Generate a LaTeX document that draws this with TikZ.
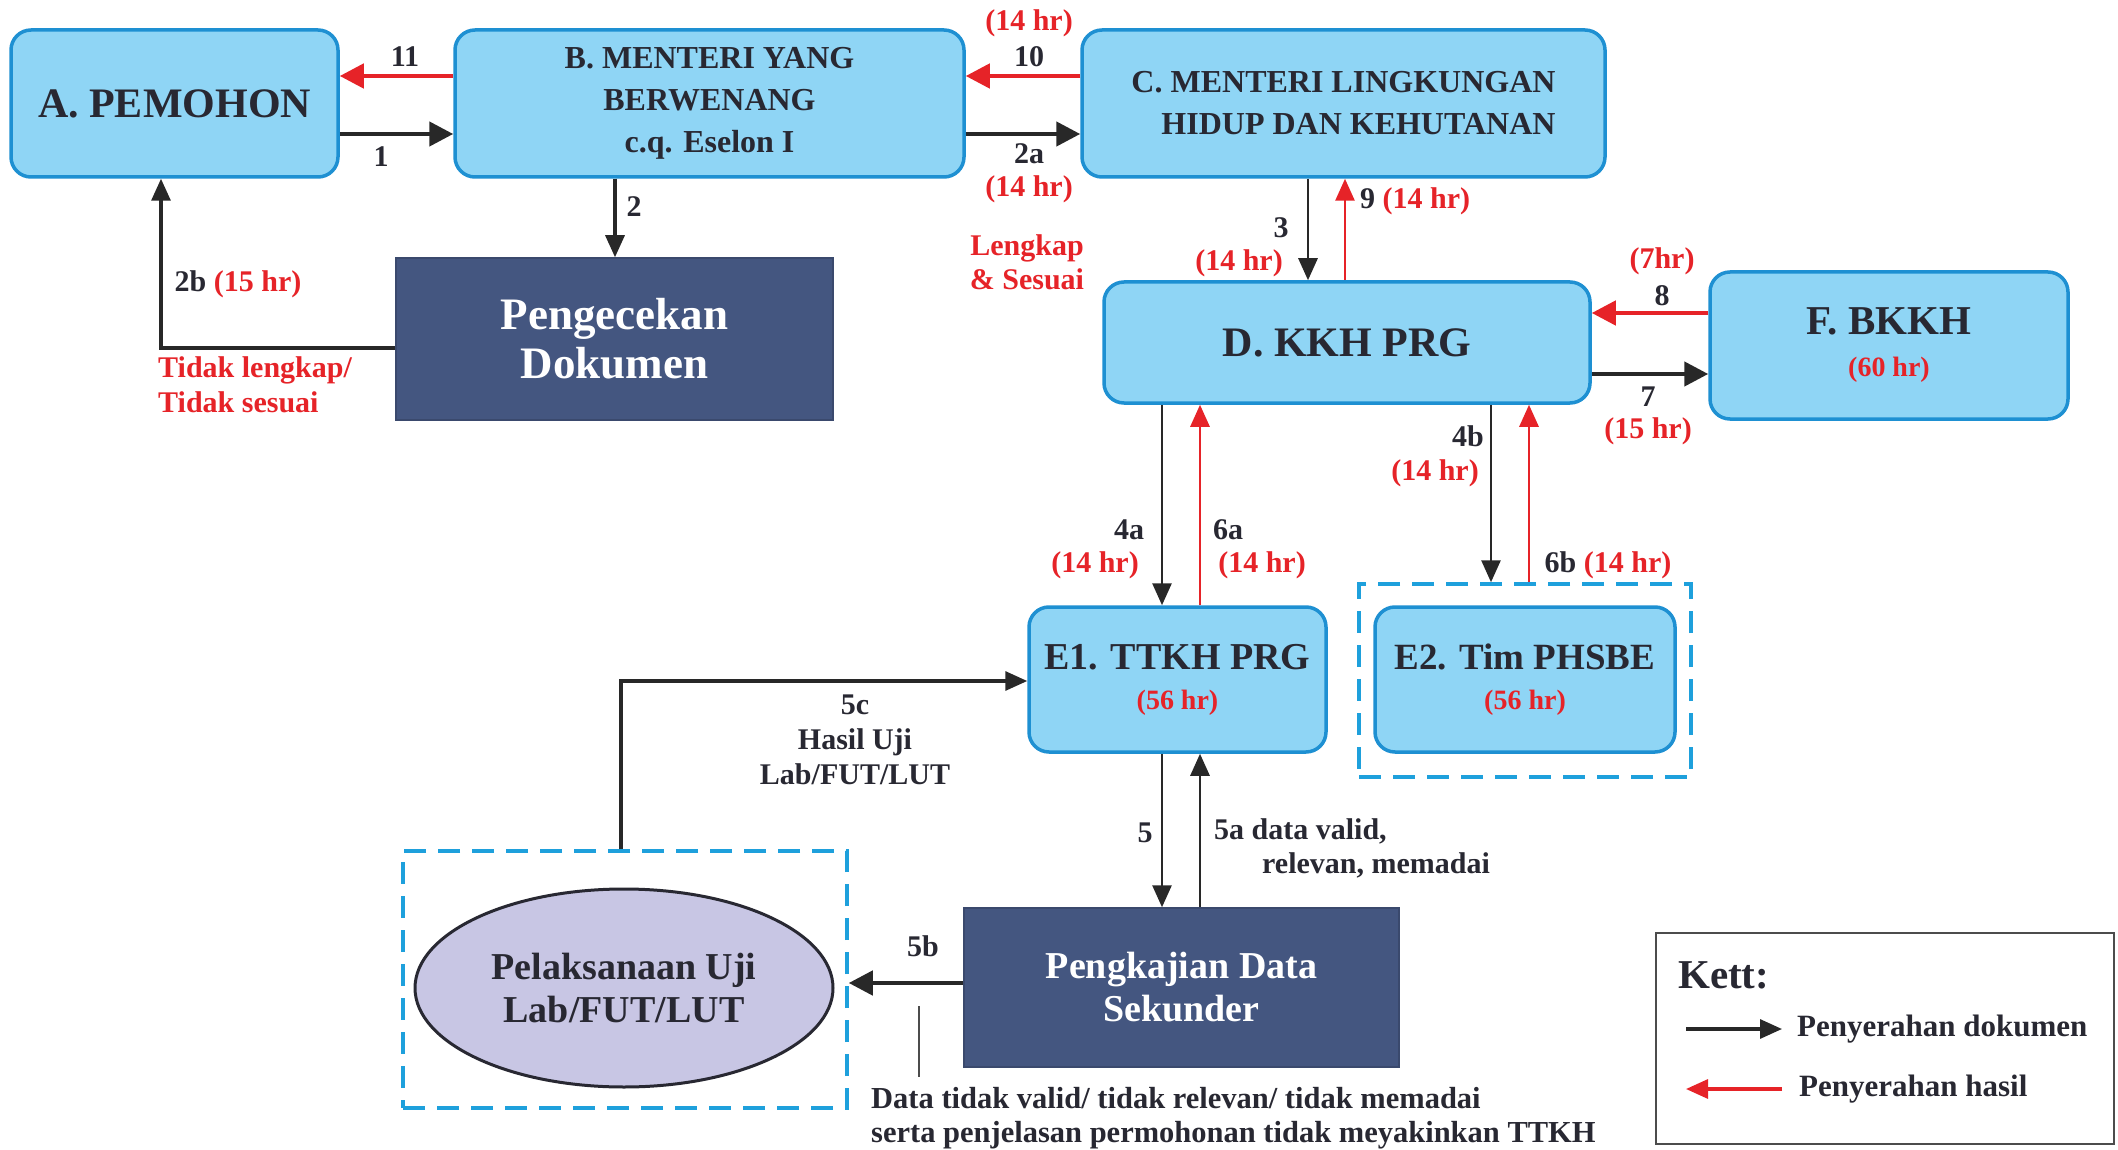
\documentclass[tikz,border=0pt]{standalone}
\usepackage{fontspec}
\setmainfont{Liberation Serif}
\usetikzlibrary{arrows.meta,shapes.geometric}
\definecolor{boxfill}{RGB}{143,213,245}
\definecolor{boxline}{RGB}{30,144,210}
\definecolor{navy}{RGB}{68,86,128}
\definecolor{ellfill}{RGB}{200,198,228}
\definecolor{dashblue}{RGB}{30,160,220}
\definecolor{redc}{RGB}{230,35,40}
\definecolor{textdark}{RGB}{40,40,50}
\definecolor{arrowblack}{RGB}{40,40,40}
\tikzset{
  lbox/.style={draw=boxline, fill=boxfill, line width=3.5pt, rounded corners=20pt, text=textdark, align=center, inner sep=0pt},
  navybox/.style={draw=navy!85!black, fill=navy, line width=1.5pt, text=white, align=center, inner sep=0pt},
  dashbox/.style={draw=dashblue, line width=3.5pt, dash pattern=on 22pt off 12pt, inner sep=0pt},
  docthick/.style={draw=arrowblack, line width=4.5pt, -{Triangle[length=24pt,width=24pt]}},
  resthick/.style={draw=redc, line width=4.5pt, -{Triangle[length=24pt,width=24pt]}},
  docthin/.style={draw=arrowblack, line width=2.8pt, -{Triangle[length=22pt,width=19pt]}},
  resthin/.style={draw=redc, line width=2.8pt, -{Triangle[length=22pt,width=19pt]}},
  lbl/.style={font=\bfseries\fontsize{30}{35}\selectfont, text=textdark, inner sep=0pt, align=center},
  rlbl/.style={lbl, text=redc},
}
\begin{document}
\begin{tikzpicture}[x=1pt,y=-1pt]
\useasboundingbox (0,0) rectangle (2118,1150);
\fill[white] (0,0) rectangle (2118,1150);

% boxes
\node[lbox, minimum width=327pt, minimum height=147pt, font=\bfseries\fontsize{42}{48}\selectfont] (A) at (174.5,103.5) {A. PEMOHON};
\node[lbox, minimum width=509pt, minimum height=147pt, font=\bfseries\fontsize{32}{42}\selectfont] (B) at (709.5,103.5) {B. MENTERI YANG\\BERWENANG\\c.q. Eselon I};
\node[lbox, minimum width=523pt, minimum height=147pt, font=\bfseries\fontsize{32}{42}\selectfont] (C) at (1343.5,103.5) {C. MENTERI LINGKUNGAN\\\hspace*{30pt}HIDUP DAN KEHUTANAN};
\node[navybox, minimum width=437pt, minimum height=162pt, font=\bfseries\fontsize{45}{49}\selectfont] (P1) at (614.5,339) {Pengecekan\\Dokumen};
\node[lbox, minimum width=486pt, minimum height=121pt, font=\bfseries\fontsize{42}{48}\selectfont] (D) at (1347,342.5) {D. KKH PRG};
\node[lbox, minimum width=358pt, minimum height=147pt, font=\bfseries\fontsize{41}{46}\selectfont] (F) at (1889,345.5) {F. BKKH\\[-4pt]{\fontsize{28}{30}\selectfont\color{redc}(60 hr)}};
\node[lbox, minimum width=297pt, minimum height=145pt, font=\bfseries\fontsize{38}{44}\selectfont] (E1) at (1177.5,679.5) {E1. TTKH PRG\\[-4pt]{\fontsize{28}{30}\selectfont\color{redc}(56 hr)}};
\node[dashbox, minimum width=332pt, minimum height=193pt] (E2d) at (1525,680.5) {};
\node[lbox, minimum width=300pt, minimum height=145pt, font=\bfseries\fontsize{37}{44}\selectfont] (E2) at (1525,679.5) {E2. Tim PHSBE\\[-4pt]{\fontsize{28}{30}\selectfont\color{redc}(56 hr)}};
\node[navybox, minimum width=435pt, minimum height=159pt, font=\bfseries\fontsize{38}{43}\selectfont] (P2) at (1181.5,987.5) {Pengkajian Data\\Sekunder};
\node[dashbox, minimum width=444pt, minimum height=257pt] (Ld) at (625,979.5) {};
\node[ellipse, draw=textdark, line width=3pt, fill=ellfill, minimum width=418pt, minimum height=198pt, inner sep=0pt, align=center, text=textdark, font=\bfseries\fontsize{38}{43}\selectfont] (L) at (624,988) {Pelaksanaan Uji\\Lab/FUT/LUT};
\node[draw=black!70, line width=2pt, minimum width=458pt, minimum height=211pt, inner sep=0pt] (K) at (1885,1038.5) {};

% helper coordinates
\coordinate (r1) at (0,76);
\coordinate (r2) at (0,134);
\coordinate (r8) at (0,313);
\coordinate (r7) at (0,374);
\coordinate (r2b) at (0,348);
\coordinate (r5b) at (0,983);
\coordinate (r5c) at (0,681);
\coordinate (c2) at (615,0);
\coordinate (c2b) at (161,0);
\coordinate (c3) at (1308,0);
\coordinate (c9) at (1345,0);
\coordinate (c4a) at (1162,0);
\coordinate (c6a) at (1200,0);
\coordinate (c4b) at (1491,0);
\coordinate (c6b) at (1529,0);
\coordinate (c5c) at (621,0);

% connectors
\draw[resthick] (B.west|-r1) -- (A.east|-r1);
\draw[docthick] (A.east|-r2) -- (B.west|-r2);
\draw[resthick] (C.west|-r1) -- (B.east|-r1);
\draw[docthick] (B.east|-r2) -- (C.west|-r2);
\draw[docthin, line width=3.2pt] (B.south-|c2) -- (P1.north-|c2);
\draw[docthin, line width=3.2pt] (P1.west|-r2b) -- (c2b|-r2b) -- (A.south-|c2b);
\draw[docthin] (C.south-|c3) -- (D.north-|c3);
\draw[resthin] (D.north-|c9) -- (C.south-|c9);
\draw[resthick] (F.west|-r8) -- (D.east|-r8);
\draw[docthick] (D.east|-r7) -- (F.west|-r7);
\draw[docthin] (D.south-|c4a) -- (E1.north-|c4a);
\draw[resthin] (E1.north-|c6a) -- (D.south-|c6a);
\draw[docthin] (D.south-|c4b) -- (E2d.north-|c4b);
\draw[resthin] (E2d.north-|c6b) -- (D.south-|c6b);
\draw[docthin] (E1.south-|c4a) -- (P2.north-|c4a);
\draw[docthin] (P2.north-|c6a) -- (E1.south-|c6a);
\draw[docthick] (P2.west|-r5b) -- (Ld.east|-r5b);
\draw[docthin, line width=3.2pt] (Ld.north-|c5c) -- (c5c|-r5c) -- (E1.west|-r5c);
\coordinate (t1) at (919,1006);
\coordinate (t2) at (919,1077);
\draw[black!70, line width=1.5pt] (t1) -- (t2);

% labels
\node[lbl] (l11) at (405,57) {11};
\node[lbl] (l1) at (381,157) {1};
\node[rlbl] (l10t) at (1029,23) {(14 hr)};
\node[lbl] (l10) at (1029,57) {10};
\node[lbl] (l2a) at (1029,154) {2a};
\node[rlbl] (l2at) at (1029,189) {(14 hr)};
\node[rlbl] (lleng) at (1027,262) {Lengkap\\[-1pt]\& Sesuai};
\node[lbl] (l2) at (634,207) {2};
\node[lbl] (l2b) at (238,284) {2b \textcolor{redc}{(15 hr)}};
\node[rlbl, align=left, anchor=west] (ltidak) at (158,385) {Tidak lengkap/\\Tidak sesuai};
\node[lbl] (l3) at (1281,228) {3};
\node[rlbl] (l3t) at (1239,263) {(14 hr)};
\node[lbl, anchor=west] (l9) at (1360,201) {9 \textcolor{redc}{(14 hr)}};
\node[rlbl] (l8t) at (1662,261) {(7hr)};
\node[lbl] (l8) at (1662,296) {8};
\node[lbl] (l7) at (1648,397) {7};
\node[rlbl] (l7t) at (1648,431) {(15 hr)};
\node[lbl] (l4a) at (1129,530) {4a};
\node[rlbl] (l4at) at (1095,565) {(14 hr)};
\node[lbl] (l6a) at (1228,530) {6a};
\node[rlbl] (l6at) at (1262,565) {(14 hr)};
\node[lbl] (l4b) at (1468,436) {4b};
\node[rlbl] (l4bt) at (1435,473) {(14 hr)};
\node[lbl] (l6b) at (1608,565) {6b \textcolor{redc}{(14 hr)}};
\node[lbl] (l5) at (1145,833) {5};
\node[lbl, anchor=west] (l5a) at (1214,831) {5a data valid,};
\node[lbl, anchor=west] (l5a2) at (1262,865) {relevan, memadai};
\node[lbl] (l5b) at (923,946) {5b};
\node[lbl, align=left, anchor=west, font=\bfseries\fontsize{30.5}{34}\selectfont] (lcap) at (871,1118) {Data tidak valid/ tidak relevan/ tidak memadai\\serta penjelasan permohonan tidak meyakinkan TTKH};
\node[lbl] (l5c) at (855,740) {5c\\Hasil Uji\\Lab/FUT/LUT};

% legend
\node[lbl, anchor=west, font=\bfseries\fontsize{41}{44}\selectfont] (kett) at (1678,975) {Kett:};
\coordinate (k1a) at (1686,1029);
\coordinate (k1b) at (1782,1029);
\coordinate (k2a) at (1782,1089);
\coordinate (k2b) at (1686,1089);
\draw[docthin, line width=3.2pt] (k1a) -- (k1b);
\draw[resthin, line width=3.2pt] (k2a) -- (k2b);
\node[lbl, anchor=west, font=\bfseries\fontsize{31}{35}\selectfont] (kd) at (1797,1029) {Penyerahan dokumen};
\node[lbl, anchor=west, font=\bfseries\fontsize{31}{35}\selectfont] (kh) at (1799,1089) {Penyerahan hasil};
\end{tikzpicture}
\end{document}
